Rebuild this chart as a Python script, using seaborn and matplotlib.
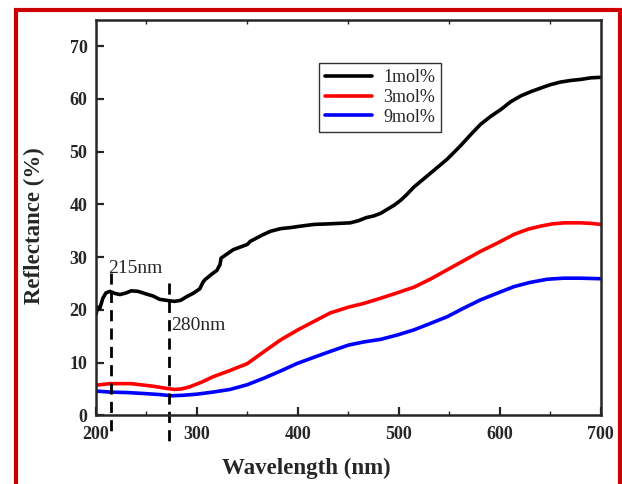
import numpy as np
import pandas as pd
import matplotlib
matplotlib.use("Agg")
import matplotlib.pyplot as plt
from matplotlib.patches import Rectangle
from matplotlib.ticker import MultipleLocator
import seaborn as sns

# reflectance spectra
wl_1 = [200, 202, 204, 207, 210, 214, 219, 224, 230, 235, 242, 250, 257, 263, 270, 278, 284,
        290, 297, 303, 306, 308, 315, 320, 323, 324, 330, 336, 343, 350, 353, 360, 365, 373,
        383, 393, 400, 416, 430, 452, 460, 468, 475, 482, 488, 495, 502, 508, 515, 525, 535,
        548, 561, 571, 581, 591, 601, 611, 621, 631, 641, 650, 660, 670, 680, 690, 700]
r_1 = [19.0, 20.5, 20.3, 22.2, 23.2, 23.5, 23.1, 22.9, 23.2, 23.6, 23.5, 23.0, 22.6, 22.0,
       21.8, 21.6, 21.8, 22.5, 23.2, 24.0, 25.2, 25.7, 26.8, 27.5, 28.6, 29.8, 30.6, 31.4,
       31.9, 32.4, 33.0, 33.7, 34.2, 34.9, 35.4, 35.6, 35.8, 36.2, 36.3, 36.5, 36.9, 37.5,
       37.8, 38.3, 39.0, 39.8, 40.8, 41.9, 43.3, 44.9, 46.5, 48.6, 51.1, 53.2, 55.2, 56.7,
       58.0, 59.5, 60.6, 61.4, 62.1, 62.7, 63.2, 63.5, 63.7, 64.0, 64.1]

wl_3 = [200, 214, 235, 257, 270, 278, 285, 293, 305, 316, 333, 350, 366, 383, 400, 416, 432,
        450, 465, 482, 498, 515, 531, 548, 564, 581, 598, 614, 628, 641, 652, 664, 680, 690,
        700]
r_3 = [5.7, 6.0, 6.0, 5.5, 5.1, 4.9, 5.0, 5.4, 6.3, 7.3, 8.5, 9.8, 12.0, 14.3, 16.2, 17.8,
       19.4, 20.5, 21.2, 22.2, 23.2, 24.3, 25.8, 27.6, 29.3, 31.1, 32.7, 34.3, 35.3, 35.9,
       36.3, 36.5, 36.5, 36.4, 36.2]

wl_9 = [200, 214, 232, 250, 265, 275, 287, 300, 316, 333, 350, 366, 383, 399, 416, 432, 450,
        465, 482, 498, 515, 531, 548, 564, 581, 598, 614, 630, 647, 663, 680, 700]
r_9 = [4.6, 4.4, 4.3, 4.1, 3.9, 3.7, 3.8, 4.0, 4.4, 4.9, 5.8, 7.0, 8.4, 9.8, 11.0, 12.1,
       13.3, 13.9, 14.4, 15.2, 16.2, 17.4, 18.7, 20.3, 21.9, 23.2, 24.4, 25.2, 25.8, 26.0,
       26.0, 25.9]

labels = ["1mol%", "3mol%", "9mol%"]
colors = ["black", "#ff0000", "#0000ff"]

df = pd.concat([
    pd.DataFrame({"wl": wl_1, "R": r_1, "sample": labels[0]}),
    pd.DataFrame({"wl": wl_3, "R": r_3, "sample": labels[1]}),
    pd.DataFrame({"wl": wl_9, "R": r_9, "sample": labels[2]}),
])

peaks = [215, 272]
peak_text = ["215nm", "280nm"]

sns.set_theme(style="ticks")
plt.rcParams["font.family"] = ["Liberation Serif", "DejaVu Serif"]

fig = plt.figure(figsize=(6.22, 4.84), dpi=100)
ax = fig.add_axes([0.154, 0.142, 0.812, 0.817])

sns.lineplot(data=df, x="wl", y="R", hue="sample", palette=dict(zip(labels, colors)),
             linewidth=2.6, ax=ax, sort=False)

# dashed marker lines, running below the axis
ax.plot([peaks[0], peaks[0]], [27.0, -3.4], ls=(0, (4, 2.6)), color="black", lw=2,
        clip_on=False)
ax.plot([peaks[1], peaks[1]], [25.1, -5.1], ls=(0, (4, 2.6)), color="black", lw=2,
        clip_on=False)
ax.text(212, 27.8, peak_text[0], fontsize=14, va="center", ha="left")
ax.text(275, 17.1, peak_text[1], fontsize=14, va="center", ha="left")

ax.set_xlim(200, 700)
ax.set_ylim(0, 75)
ax.xaxis.set_major_locator(MultipleLocator(100))
ax.xaxis.set_minor_locator(MultipleLocator(50))
ax.yaxis.set_major_locator(MultipleLocator(10))
ax.tick_params(which="major", direction="in", length=6, width=1.6, top=False, right=False,
               labelsize=13)
ax.tick_params(axis="x", which="major", pad=8)
ax.tick_params(axis="y", which="major", pad=6)
ax.tick_params(which="minor", direction="in", length=3, width=1, top=True)
for lab in ax.get_xticklabels() + ax.get_yticklabels():
    lab.set_fontweight("bold")
for sp in ax.spines.values():
    sp.set_linewidth(1.8)
    sp.set_visible(True)

ax.set_xlabel("Wavelength (nm)", fontsize=16.5, fontweight="bold")
ax.set_ylabel("Reflectance (%)", fontsize=16.5, fontweight="bold")
ax.xaxis.set_label_coords(0.416, -0.108)
ax.yaxis.set_label_coords(-0.1, 0.48)

leg = ax.legend(loc="upper left", bbox_to_anchor=(0.442, 0.891), borderaxespad=0,
                fontsize=13, frameon=True, fancybox=False, edgecolor="black",
                handlelength=2.6, labelspacing=0.15, borderpad=0.35, handletextpad=0.6)
leg.get_frame().set_linewidth(1.0)
for h in leg.get_lines():
    h.set_linewidth(2.6)

fig.patches.append(Rectangle((16 / 622, -0.05), 604 / 622, 1 - 10 / 484 + 0.05,
                             transform=fig.transFigure, fill=False, edgecolor="#cc0000",
                             linewidth=3))

fig.savefig("out.png", dpi=100)
